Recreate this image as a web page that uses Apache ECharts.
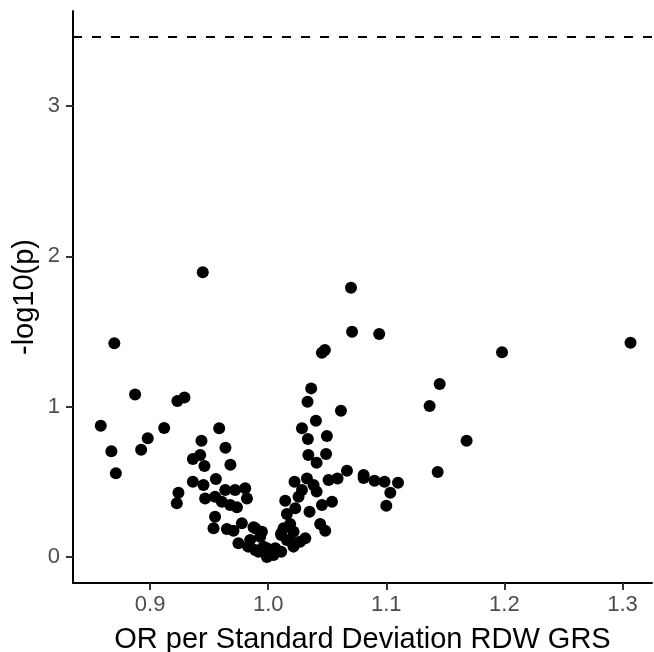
<!DOCTYPE html>
<html>
<head>
<meta charset="utf-8">
<script src="https://cdn.jsdelivr.net/npm/echarts@6/dist/echarts.min.js"></script>
<style>
  html, body { margin: 0; padding: 0; background: #ffffff; }
  #chart { width: 654px; height: 652px; }
</style>
</head>
<body>
<div id="chart"></div>
<script>
// Odds ratio per SD of RDW GRS (x) and -log10(p) (y), one entry per point
const orValues = [
  0.8697, 0.8873, 0.9231, 0.9291, 0.8582, 0.9119, 0.8980, 0.9585, 0.8672, 0.8924,
  0.9435, 0.9638, 0.9362, 0.9424, 0.9460, 0.9680, 0.8710, 0.9446, 0.9362, 0.9452,
  0.9557, 0.9240, 0.9226, 0.9466, 0.9550, 0.9636, 0.9720, 0.9805, 0.9820, 0.9607,
  0.9678, 0.9735, 0.9550, 0.9537, 0.9650, 0.9706, 0.9777, 0.9876, 0.9748, 0.9847,
  0.9932, 0.9890, 0.9960, 1.0017, 0.9830, 0.9918, 0.9989, 0.9989, 1.0045, 1.0060,
  1.0110, 1.0214, 1.0270, 1.0158, 1.0110, 1.0314, 1.0215, 0.9947, 1.0130, 1.0186,
  1.0483, 1.0440, 1.0158, 1.0350, 1.0229, 1.0455, 1.0540, 1.0144, 1.0257, 1.0410,
  1.0286, 1.0384, 1.0223, 1.0328, 1.0587, 1.0511, 1.0808, 1.0667, 1.0410, 1.0490,
  1.0340, 1.0336, 1.0497, 1.0286, 1.0404, 1.0616, 1.0333, 1.0364, 1.0455, 1.0480,
  1.0710, 1.0940, 1.0701, 1.0900, 1.0985, 1.1099, 1.1034, 1.1000, 1.1435, 1.1680,
  1.1367, 1.1452, 1.1980, 1.3068, 1.0110, 1.0200, 1.0808, 0.9890
];
const logP = [
  1.422, 1.082, 1.038, 1.062, 0.874, 0.858, 0.790, 0.856, 0.703, 0.714,
  0.774, 0.727, 0.652, 0.679, 0.605, 0.614, 0.557, 1.894, 0.501, 0.479,
  0.519, 0.428, 0.357, 0.390, 0.401, 0.446, 0.446, 0.457, 0.390, 0.368,
  0.346, 0.331, 0.268, 0.191, 0.186, 0.175, 0.224, 0.198, 0.091, 0.113,
  0.135, 0.047, 0.069, 0.025, 0.069, 0.035, 0.058, 0.000, 0.013, 0.058,
  0.035, 0.069, 0.102, 0.113, 0.146, 0.124, 0.168, 0.168, 0.191, 0.220,
  0.175, 0.220, 0.286, 0.301, 0.324, 0.346, 0.368, 0.375, 0.401, 0.435,
  0.446, 0.479, 0.501, 0.523, 0.523, 0.512, 0.546, 0.574, 0.627, 0.685,
  0.679, 0.785, 0.805, 0.856, 0.907, 0.973, 1.033, 1.122, 1.359, 1.377,
  1.499, 1.484, 1.792, 0.508, 0.501, 0.494, 0.428, 0.341, 0.566, 0.774,
  1.005, 1.151, 1.362, 1.426, 0.157, 0.100, 0.525, 0.191
];
const xTicks = [0.9, 1.0, 1.1, 1.2, 1.3];
const yTicks = [0, 1, 2, 3];
const thresholdLine = 3.4594; // Bonferroni threshold, -log10(0.05/144)

const points = orValues.map((v, i) => [v, logP[i]]);

const chart = echarts.init(document.getElementById('chart'), null, { renderer: 'canvas' });
const font = 'Liberation Sans, Arial, sans-serif';
chart.setOption({
  backgroundColor: '#ffffff',
  animation: false,
  grid: { left: 73, right: 2, top: 11, bottom: 69, containLabel: false, outerBoundsMode: 'none' },
  xAxis: {
    type: 'value',
    min: 0.8347,
    max: 1.325,
    name: 'OR per Standard Deviation RDW GRS',
    nameLocation: 'middle',
    nameGap: 42,
    nameMoveOverlap: false,
    nameTextStyle: { fontFamily: font, fontSize: 29, color: '#000000' },
    splitLine: { show: false },
    axisLine: { show: true, onZero: false, lineStyle: { color: '#000000', width: 2 } },
    axisTick: { show: true, length: 7, customValues: xTicks, lineStyle: { color: '#333333', width: 2 } },
    axisLabel: {
      customValues: xTicks,
      formatter: v => v.toFixed(1),
      fontFamily: font, fontSize: 22, color: '#4d4d4d', margin: 11
    }
  },
  yAxis: {
    type: 'value',
    min: -0.173,
    max: 3.633,
    name: '-log10(p)',
    nameLocation: 'middle',
    nameGap: 34,
    nameRotate: 90,
    nameMoveOverlap: false,
    nameTextStyle: { fontFamily: font, fontSize: 29, color: '#000000' },
    splitLine: { show: false },
    axisLine: { show: true, onZero: false, lineStyle: { color: '#000000', width: 2 } },
    axisTick: { show: true, length: 7, customValues: yTicks, lineStyle: { color: '#333333', width: 2 } },
    axisLabel: {
      customValues: yTicks,
      formatter: v => String(v),
      fontFamily: font, fontSize: 22, color: '#4d4d4d', margin: 13
    }
  },
  series: [{
    type: 'scatter',
    data: points,
    symbol: 'circle',
    symbolSize: 12,
    itemStyle: { color: '#000000', opacity: 1 },
    silent: true,
    markLine: {
      silent: true,
      symbol: ['none', 'none'],
      label: { show: false },
      lineStyle: { color: '#000000', width: 2, type: [9, 10] },
      data: [{ yAxis: thresholdLine }]
    }
  }]
});
</script>
</body>
</html>
